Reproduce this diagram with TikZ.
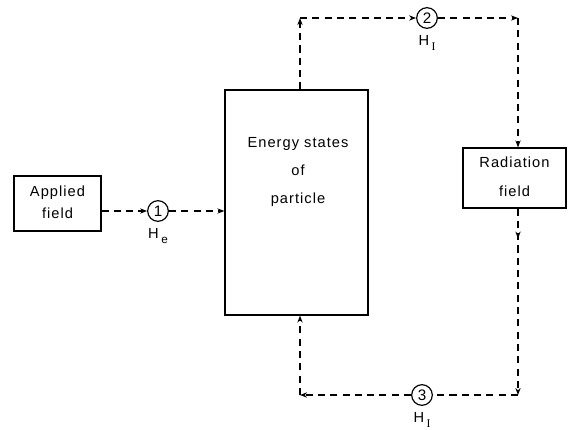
\documentclass[tikz,border=0pt]{standalone}
\usepackage{fontspec}
\setmainfont[LetterSpace=7]{Liberation Sans}
\newfontfamily\subserif{Liberation Serif}
\usepackage{tikz}
\usetikzlibrary{arrows.meta,positioning}

\newcommand{\hsub}[1]{H\,\raisebox{-0.6ex}{\normalsize #1}}

\tikzset{
  blockbox/.style={draw,line width=1pt,inner sep=0pt},
  numcirc/.style={draw,circle,line width=1pt,minimum size=0.62cm,inner sep=0pt,font=\fontsize{13}{15}\selectfont},
  flow/.style={line width=1pt,dash pattern=on 6pt off 4.5pt,-{Stealth[length=6pt,width=4.5pt]}},
  flowline/.style={line width=1pt,dash pattern=on 6pt off 4.5pt},
  lbl/.style={font=\fontsize{12.5}{15}\selectfont,align=center}
}

\begin{document}
\begin{tikzpicture}[x=0.03cm,y=-0.03cm]
  \useasboundingbox (0,0) rectangle (568,430);

  % boxes
  \node[blockbox,minimum width=2.61cm,minimum height=1.65cm] (app) at (57.5,203.5) {};
  \node[lbl] at (57.5,202) {Applied\\[4pt]field};
  \node[blockbox,minimum width=4.29cm,minimum height=6.75cm] (ens) at (296.5,202.5) {};
  \node[lbl] at (298,172) {Energy states\\[9pt]of\\[9pt]particle};
  \node[blockbox,minimum width=3.09cm,minimum height=1.8cm] (rad) at (514.5,178) {};
  \node[lbl] at (514.5,177) {Radiation\\[10pt]field};

  % interaction circles
  \node[numcirc] (c1) at (158,211) {1};
  \node[lbl,below=2pt of c1] (he) {\hsub{e}};
  \node[numcirc] (c2) at (427,18) {2};
  \node[lbl,below=2pt of c2] (hi2) {\hsub{\subserif I}};
  \node[numcirc] (c3) at (422,395) {3};
  \node[lbl,below=2pt of c3] (hi3) {\hsub{\subserif I}};

  % corners
  \coordinate (tl) at (300,18);
  \coordinate (tr) at (518,18);
  \coordinate (br) at (518,395);
  \coordinate (bl) at (300,395);

  % connectors
  \draw[flow] (app.east |- c1) -- (c1);
  \draw[flow] (c1) -- (ens.west |- c1);
  \draw[flow] (ens.north -| tl) -- (tl);
  \draw[flow] (tl) -- (c2);
  \draw[flow] (c2) -- (tr);
  \draw[flow] (tr) -- (rad.north -| tr);
  \draw[flow] (rad.south -| br) -- ++(0,30);
  \draw[flow] (rad.south -| br) -- (br);
  \draw[flowline] (br) -- (c3);
  \draw[flow] (c3) -- (bl);
  \draw[flow] (bl) -- (ens.south -| bl);
\end{tikzpicture}
\end{document}
